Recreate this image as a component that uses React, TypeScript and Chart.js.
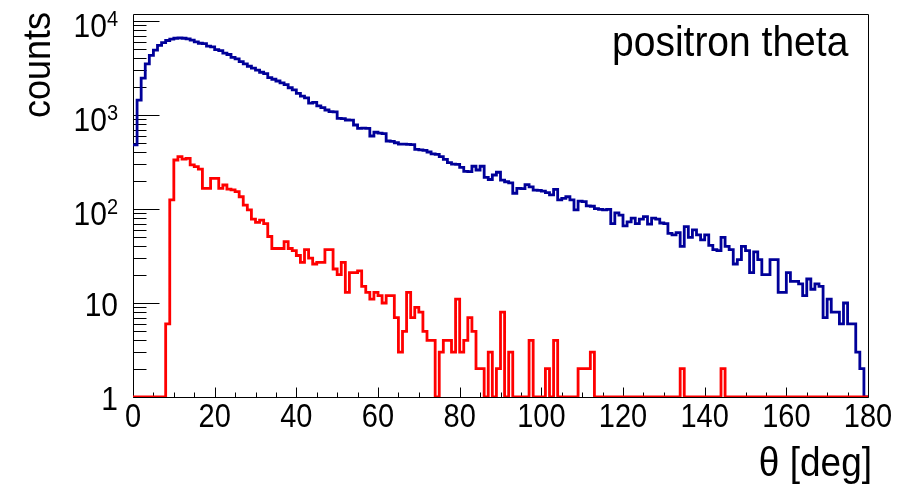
import React, { useEffect, useRef } from "react";
import { Chart, registerables } from "chart.js";

Chart.register(...registerables);

// ---- axis ranges / ticks ----
const X_MIN = 0;
const X_MAX = 180;
const BIN_WIDTH = 1;
const Y_MIN = 1;
const Y_MAX = 11870;
const X_MAJOR_TICKS = [0, 20, 40, 60, 80, 100, 120, 140, 160, 180];
const X_MINOR_STEP = 5;
const Y_MAJOR_TICKS = [1, 10, 100, 1000, 10000];
const Y_TICK_BASES = ["1", "10", "10", "10", "10"];
const Y_TICK_EXPONENTS = ["", "", "2", "3", "4"];

// ---- texts ----
const X_TITLE = "θ [deg]";
const Y_TITLE = "counts";
const PLOT_LABEL = "positron theta";

// ---- histogram contents (1 deg bins, 0..179) ----
const blueCounts = [
  480, 1440, 2470, 3500, 4300, 4900, 5500, 5900, 6200, 6400,
  6550, 6600, 6550, 6450, 6250, 6000, 5800, 5750, 5400, 5300,
  4950, 4850, 4550, 4400, 4100, 3950, 3700, 3500, 3300, 3150,
  3000, 2850, 2750, 2500, 2400, 2300, 2200, 2100, 1950, 1850,
  1700, 1590, 1520, 1340, 1360, 1250, 1200, 1130, 1085, 1080,
  920, 915, 885, 880, 783, 722, 725, 720, 598, 655,
  640, 635, 529, 525, 507, 491, 490, 488, 485, 431,
  425, 420, 404, 385, 382, 360, 338, 311, 300, 298,
  277, 251, 250, 285, 260, 285, 217, 206, 230, 246,
  203, 195, 190, 147, 166, 165, 182, 172, 159, 158,
  155, 149, 141, 162, 125, 130, 135, 125, 98, 121,
  120, 108, 107, 101, 99, 98, 99, 70, 91, 86,
  66, 73, 80, 70, 78, 83, 69, 80, 78, 71,
  70, 55, 53, 56, 40, 65, 50, 60, 53, 47,
  53, 41, 37, 36, 50, 40, 37, 26, 29, 40,
  36, 21, 35, 29, 20, 20, 29, 29, 13, 13,
  21, 17, 17, 16, 12, 18, 14, 16, 15, 7,
  11, 8, 8, 6, 10, 6, 6, 3, 2, 0,
];

const redCounts = [
  0, 0, 0, 0, 0, 0, 0, 0, 6, 125,
  332, 360, 340, 345, 294, 282, 265, 166, 166, 212,
  212, 166, 180, 163, 160, 153, 135, 110, 98, 78,
  72, 76, 70, 51, 38, 38, 38, 45, 38, 36,
  32, 27, 37, 30, 26, 27, 27, 37, 37, 23,
  20, 27, 13, 21, 21, 22, 15, 13, 11, 13,
  12, 10, 12, 12, 7, 3, 5, 13, 7, 9,
  8, 5, 4, 4, 0, 3, 4, 4, 3, 11,
  3, 4, 7, 5, 2, 2, 0, 3, 0, 2,
  8, 0, 3, 0, 0, 0, 0, 4, 0, 0,
  0, 2, 0, 4, 0, 0, 0, 0, 0, 2,
  2, 2, 3, 0, 0, 0, 0, 0, 0, 0,
  0, 0, 0, 0, 0, 0, 0, 0, 0, 0,
  0, 0, 0, 0, 2, 0, 0, 0, 0, 0,
  0, 0, 0, 0, 2, 0, 0, 0, 0, 0,
  0, 0, 0, 0, 0, 0, 0, 0, 0, 0,
  0, 0, 0, 0, 0, 0, 0, 0, 0, 0,
  0, 0, 0, 0, 0, 0, 0, 0, 0, 0,
];

const BLUE = "#000099";
const RED = "#ff0000";
const FONT = '"Liberation Sans", Arial, Helvetica, sans-serif';

function histPoints(counts: number[]) {
  const pts = counts.map((c, i) => ({ x: X_MIN + i * BIN_WIDTH, y: Math.max(c, Y_MIN) }));
  pts.push({
    x: X_MIN + counts.length * BIN_WIDTH,
    y: Math.max(counts[counts.length - 1], Y_MIN),
  });
  return pts;
}

function drawText(ctx: CanvasRenderingContext2D, text: string, x: number, y: number, size: number, align: CanvasTextAlign, sy: number) {
  ctx.save();
  ctx.translate(x, y);
  ctx.scale(1, sy);
  ctx.font = `${size}px ${FONT}`;
  ctx.textAlign = align;
  ctx.textBaseline = "alphabetic";
  ctx.fillText(text, 0, 0);
  ctx.restore();
}

const rootAxesPlugin = {
  id: "rootAxes",
  beforeDatasetsDraw(chart: any) {
    const { ctx, chartArea: a, scales } = chart;
    const xs = scales.x;
    const ys = scales.y;
    const L = Math.round(a.left) + 0.5;
    const R = Math.round(a.right) + 0.5;
    const T = Math.round(a.top) + 0.5;
    const B = Math.round(a.bottom) + 0.5;
    ctx.save();
    ctx.strokeStyle = "#000";
    ctx.lineWidth = 1;
    ctx.beginPath();
    ctx.rect(L, T, R - L, B - T);
    ctx.stroke();
    ctx.beginPath();
    for (let v = X_MIN; v <= X_MAX; v += X_MINOR_STEP) {
      const px = Math.round(xs.getPixelForValue(v)) + 0.5;
      const len = X_MAJOR_TICKS.includes(v) ? 10 : 5;
      ctx.moveTo(px, B);
      ctx.lineTo(px, B - len);
    }
    for (const dec of Y_MAJOR_TICKS) {
      for (let m = 1; m <= 9; m++) {
        const v = m * dec;
        if (v > Y_MAX) break;
        const py = Math.round(ys.getPixelForValue(v)) + 0.5;
        const len = m === 1 ? 26 : 13;
        ctx.moveTo(L, py);
        ctx.lineTo(L + len, py);
      }
    }
    ctx.stroke();
    ctx.restore();
  },
  afterDraw(chart: any) {
    const { ctx, chartArea: a, scales } = chart;
    const xs = scales.x;
    const ys = scales.y;
    ctx.save();
    ctx.fillStyle = "#000";
    const SY = 1.13;
    for (const v of X_MAJOR_TICKS) {
      drawText(ctx, String(v), xs.getPixelForValue(v), a.bottom + 30, 29, "center", SY);
    }
    const labelRight = a.left - 15;
    Y_MAJOR_TICKS.forEach((v, i) => {
      const py = ys.getPixelForValue(v);
      const base = Y_TICK_BASES[i];
      const exp = Y_TICK_EXPONENTS[i];
      if (exp) {
        ctx.font = `20px ${FONT}`;
        const we = ctx.measureText(exp).width;
        ctx.font = `30px ${FONT}`;
        const wb = ctx.measureText(base).width;
        const x0 = labelRight - we - wb;
        drawText(ctx, base, x0, py + 16, 30, "left", SY);
        drawText(ctx, exp, x0 + wb, py + 5, 20, "left", SY);
      } else {
        drawText(ctx, base, labelRight, py + 13, 30, "right", SY);
      }
    });
    drawText(ctx, X_TITLE, a.right + 4, 476, 37, "right", 1.1);
    ctx.save();
    ctx.translate(50, 12);
    ctx.rotate(-Math.PI / 2);
    ctx.scale(1, 1.08);
    ctx.font = `36px ${FONT}`;
    ctx.textAlign = "right";
    ctx.textBaseline = "alphabetic";
    ctx.fillText(Y_TITLE, 0, 0);
    ctx.restore();
    drawText(ctx, PLOT_LABEL, 612, 56, 39, "left", 1.08);
    ctx.restore();
  },
};

export default function App() {
  const ref = useRef<HTMLCanvasElement>(null);
  useEffect(() => {
    const canvas = ref.current;
    if (!canvas) return;
    const chart = new Chart(canvas, {
      type: "line",
      data: {
        datasets: [
          {
            label: "red",
            data: histPoints(redCounts),
            borderColor: RED,
            borderWidth: 2.8,
            stepped: "before",
            pointRadius: 0,
            fill: false,
            borderJoinStyle: "miter",
            borderCapStyle: "butt",
            order: 0,
          },
          {
            label: "blue",
            data: histPoints(blueCounts),
            borderColor: BLUE,
            borderWidth: 2.8,
            stepped: "before",
            pointRadius: 0,
            fill: false,
            borderJoinStyle: "miter",
            borderCapStyle: "butt",
            order: 1,
          },
        ],
      },
      options: {
        responsive: false,
        animation: false,
        devicePixelRatio: 1,
        layout: { padding: { left: 133, right: 46, top: 14, bottom: 89 } },
        scales: {
          x: { type: "linear", min: X_MIN, max: X_MAX, display: false },
          y: { type: "logarithmic", min: Y_MIN, max: Y_MAX, display: false },
        },
        plugins: { legend: { display: false }, tooltip: { enabled: false } },
        events: [],
      },
      plugins: [rootAxesPlugin],
    } as any);
    return () => chart.destroy();
  }, []);
  return (
    <div style={{ position: "fixed", left: 0, top: 0, width: 914, height: 486, background: "#fff" }}>
      <canvas ref={ref} width={914} height={486} style={{ display: "block", width: 914, height: 486 }} />
    </div>
  );
}
